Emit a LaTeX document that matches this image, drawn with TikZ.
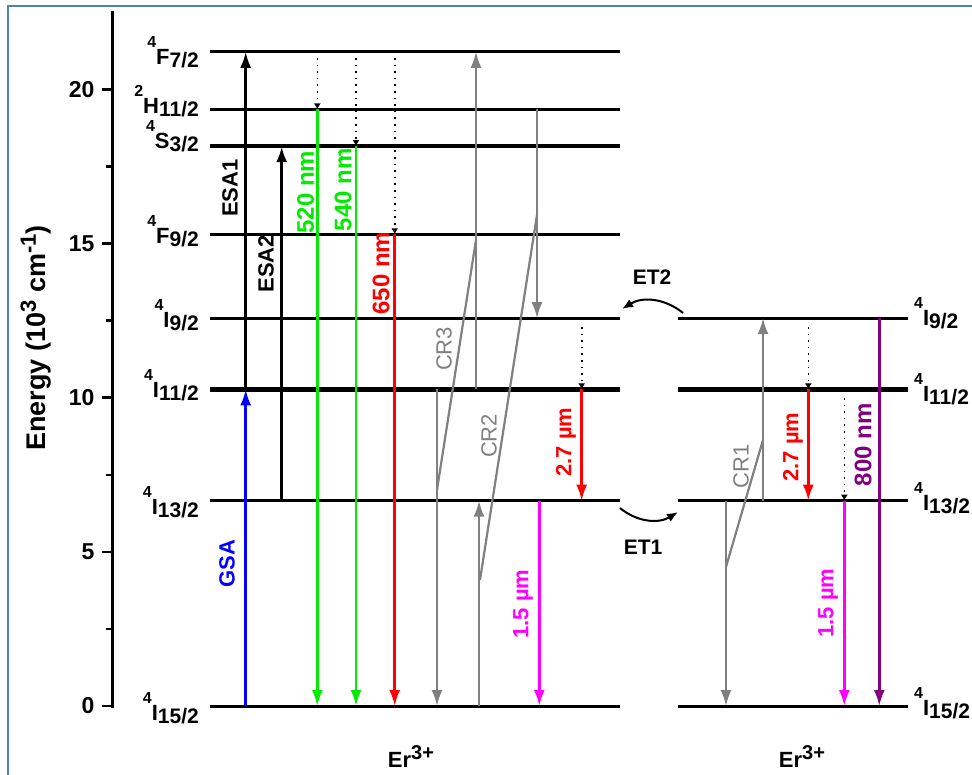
\documentclass[tikz,border=0pt]{standalone}
\usepackage{fontspec}
\setmainfont{Liberation Sans}
\usetikzlibrary{arrows.meta, positioning}
\definecolor{erblue}{RGB}{0, 0, 255}
\definecolor{ergreen}{RGB}{0, 235, 0}
\definecolor{erred}{RGB}{255, 0, 0}
\definecolor{ermagenta}{RGB}{255, 0, 255}
\definecolor{erpurple}{RGB}{128, 0, 128}
\definecolor{ergray}{RGB}{128, 128, 128}
\definecolor{framecol}{RGB}{79, 129, 189}
% term symbol: ^{2S+1}L_J
\newcommand{\term}[3]{{\fontsize{16}{16}\selectfont\raisebox{17pt}{#1}}#2{\fontsize{21}{21}\selectfont\raisebox{-3pt}{#3}}}
\newcommand{\ion}{Er{\fontsize{20}{20}\selectfont\raisebox{8pt}{3+}}}

\begin{document}
\begin{tikzpicture}[x=1pt, y=30.83pt,
        font=\fontsize{22}{26}\selectfont\bfseries,
        lvl/.style={line width=3pt},
        lvlthick/.style={line width=4.5pt},
        trans/.style={line width=2.5pt, -{Latex[length=16pt,width=11pt]}},
        relax/.style={line width=1.6pt, dash pattern=on 1.6pt off 5pt,
                      -{Latex[length=6pt,width=7pt]}},
        crline/.style={ergray, line width=2.2pt},
        vlabel/.style={rotate=90, inner sep=0pt},
        nmlabel/.style={vlabel, font=\fontsize{24}{28}\selectfont\bfseries},
        termL/.style={anchor=base east, inner sep=0pt},
        termR/.style={anchor=base west, inner sep=0pt},
      ]
        \useasboundingbox (0,-2.2056) rectangle (972,22.9);
        \draw[framecol, line width=2pt] (7.5,-5) -- (7.5,22.705) -- (1000,22.705);

        % energy axis
        \draw[line width=3pt] (112,-0.05) -- (112,22.55);
        \foreach \t in {0,5,10,15,20} {
          \draw[line width=2.5pt] (102,\t) -- (112,\t);
          \node[anchor=east, font=\fontsize{23}{26}\selectfont\bfseries] (tick\t) at (98,\t) {\t};
        }
        \foreach \t in {2.5,7.5,12.5,17.5}
          \draw[line width=2.5pt] (106,\t) -- (112,\t);
        \node[vlabel, font=\fontsize{27}{30}\selectfont\bfseries] (ylab) at (36,11.94)
          {Energy (10{\fontsize{22}{22}\selectfont\raisebox{10pt}{3}} cm{\fontsize{22}{22}\selectfont\raisebox{10pt}{-1}})};

        % levels
        \foreach \E in {0,6.66,12.58,15.30,19.35,21.22}
          \draw[lvl] (210,\E) -- (620,\E);
        \foreach \E in {10.27,18.16}
          \draw[lvlthick] (210,\E) -- (620,\E);
        \foreach \E in {0,6.66,12.58}
          \draw[lvl] (678,\E) -- (908,\E);
        \draw[lvlthick] (678,10.27) -- (908,10.27);

        \node[termL, yshift=-13pt] (tF72) at (199,21.22) {\term{4}{F}{7/2}};
        \node[termL, yshift=-4pt] (tH112) at (199,19.35) {\term{2}{H}{11/2}};
        \node[termL, yshift=-2pt] (tS32) at (199,18.16) {\term{4}{S}{3/2}};
        \node[termL, yshift=-9pt] (tF92) at (199,15.30) {\term{4}{F}{9/2}};
        \node[termL, yshift=-9pt] (tI92) at (199,12.58) {\term{4}{I}{9/2}};
        \node[termL, yshift=-8pt] (tI112) at (199,10.27) {\term{4}{I}{11/2}};
        \node[termL, yshift=-14pt] (tI132) at (199,6.66) {\term{4}{I}{13/2}};
        \node[termL, yshift=-14pt] (tI152) at (199,0) {\term{4}{I}{15/2}};
        \node[termR, yshift=-7pt] (rI92) at (914,12.58) {\term{4}{I}{9/2}};
        \node[termR, yshift=-12pt] (rI112) at (914,10.27) {\term{4}{I}{11/2}};
        \node[termR, yshift=-10pt] (rI132) at (914,6.66) {\term{4}{I}{13/2}};
        \node[termR, yshift=-9pt] (rI152) at (914,0) {\term{4}{I}{15/2}};

        % absorption
        \draw[trans, erblue] (245.7,0) -- (245.7,10.27);
        \draw[trans] (245.7,10.27) -- (245.7,21.22);
        \draw[trans, line width=3.5pt] (281.7,6.66) -- (281.7,18.16);
        \node[vlabel, text=erblue] (lGSA) at (227,4.61) {GSA};
        \node[vlabel] (lESA1) at (230,16.80) {ESA1};
        \node[vlabel] (lESA2) at (266,14.34) {ESA2};

        % emission, left ion
        \draw[relax] (317.3,21.02) -- (317.3,19.35);
        \draw[relax] (356,21.02) -- (356,18.16);
        \draw[relax] (394.7,21.02) -- (394.7,15.30);
        \draw[relax] (581.7,12.29) -- (581.7,10.27);
        \draw[trans, ergreen] (317.3,19.35) -- (317.3,0);
        \draw[trans, ergreen] (356,18.16) -- (356,0);
        \draw[trans, erred] (394.7,15.30) -- (394.7,0);
        \draw[trans, erred] (581.7,10.27) -- (581.7,6.66);
        \draw[trans, ermagenta] (539.3,6.66) -- (539.3,0);
        \node[nmlabel, text=ergreen] (l520) at (305.5,16.67) {520 nm};
        \node[nmlabel, text=ergreen] (l540) at (343,16.74) {540 nm};
        \node[nmlabel, text=erred] (l650) at (381,14.04) {650 nm};
        \node[vlabel, text=erred] (l27a) at (566,8.56) {2.7 µm};
        \node[vlabel, text=ermagenta] (l15a) at (523,3.31) {1.5 µm};

        % cross relaxation
        \draw[trans, crline] (476,10.27) -- (476,21.22);
        \draw[trans, crline] (437,10.27) -- (437,0);
        \draw[crline] (476,15.12) -- (437,7.01);
        \draw[trans, crline] (537,19.35) -- (537,12.58);
        \draw[trans, crline] (479,0) -- (479,6.66);
        \draw[crline] (537,15.93) -- (480,4.09);
        \draw[trans, crline] (763,6.66) -- (763,12.58);
        \draw[trans, crline] (726,6.66) -- (726,0);
        \draw[crline] (763,8.63) -- (726,4.51);
        \node[vlabel, text=ergray, font=\fontsize{22}{26}\selectfont] (lCR3) at (444,11.58) {CR3};
        \node[vlabel, text=ergray, font=\fontsize{22}{26}\selectfont] (lCR2) at (489,8.76) {CR2};
        \node[vlabel, text=ergray, font=\fontsize{22}{26}\selectfont] (lCR1) at (741,7.78) {CR1};

        % emission, right ion
        \draw[relax] (808.3,12.29) -- (808.3,10.27);
        \draw[relax] (844.3,9.99) -- (844.3,6.66);
        \draw[trans, erred] (808.3,10.27) -- (808.3,6.66);
        \draw[trans, ermagenta] (844.3,6.66) -- (844.3,0);
        \draw[trans, erpurple] (879.3,12.58) -- (879.3,0);
        \node[vlabel, text=erred] (l27b) at (793,8.40) {2.7 µm};
        \node[vlabel, text=ermagenta] (l15b) at (828,3.34) {1.5 µm};
        \node[nmlabel, text=erpurple] (l800) at (863,8.47) {800 nm};

        % energy transfer between the ions
        \coordinate (etL9) at (622,12.88);
        \coordinate (etR9) at (683,12.75);
        \coordinate (etL13) at (620,6.42);
        \coordinate (etR13) at (678,6.29);
        \draw[line width=2pt, -{Latex[length=11pt,width=9pt]}] (etR9) to[bend right=35] (etL9);
        \draw[line width=2pt, -{Latex[length=11pt,width=9pt]}] (etL13) to[bend right=35] (etR13);
        \node[font=\fontsize{21}{24}\selectfont\bfseries] (lET2) at (652,13.92) {ET2};
        \node[font=\fontsize{21}{24}\selectfont\bfseries] (lET1) at (643,5.16) {ET1};

        \node[anchor=base] (erL) at (411,-1.98) {\ion};
        \node[anchor=base] (erR) at (802,-1.98) {\ion};
      \end{tikzpicture}
\end{document}
